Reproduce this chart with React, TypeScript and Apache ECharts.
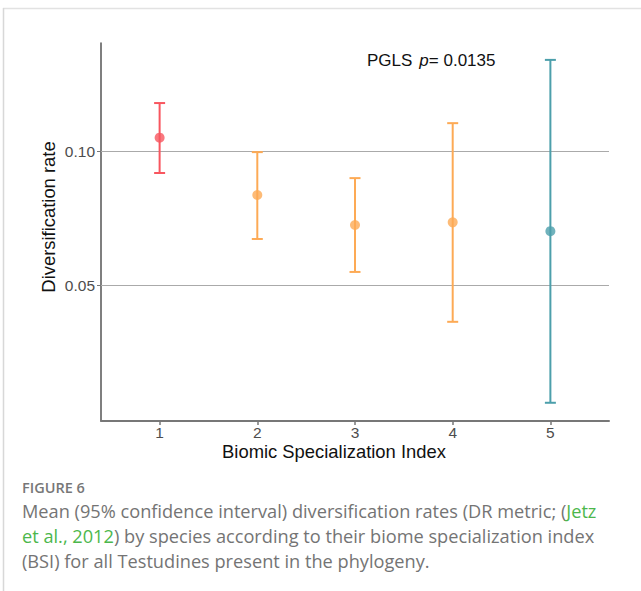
import React, { useEffect, useRef } from "react";
import * as echarts from "echarts";

const categories = [1, 2, 3, 4, 5];
const means = [0.105, 0.0836, 0.0724, 0.0734, 0.0701];
const lower = [0.0918, 0.0672, 0.0549, 0.0363, 0.0061];
const upper = [0.1179, 0.0996, 0.0899, 0.1104, 0.134];
const pointColors = ["#F8565F", "#FDAA55", "#FDAA55", "#FDAA55", "#4C9FAB"];
const yTicks = [0.05, 0.1];
const annotation = "= 0.0135";

export default function App() {
  const ref = useRef<HTMLDivElement>(null);
  useEffect(() => {
    document.body.style.margin = "0";
    const chart = echarts.init(ref.current!, null, { renderer: "svg" });
    const font = "'Liberation Sans', Arial, sans-serif";
    const capFont = "'Open Sans', 'Noto Sans', sans-serif";
    const tickRich = { a: { fontSize: 15.5, lineHeight: 14, fontFamily: font, color: "#4d4d4d" } };
    const errData = categories.map((c, i) => [c, lower[i], upper[i], i]);
    const ptData = categories.map((c, i) => ({
      value: [c, means[i]],
      itemStyle: { color: pointColors[i] },
    }));
    chart.setOption({
      animation: false,
      backgroundColor: "#ffffff",
      textStyle: { fontFamily: font },
      grid: { left: 101, right: 32, top: 43, bottom: 170, containLabel: false },
      xAxis: {
        type: "value",
        min: 0.4,
        max: 5.6,
        axisLine: { show: true, onZero: false, lineStyle: { color: "#777", width: 2 } },
        axisTick: { show: true, customValues: categories, length: 4, lineStyle: { color: "#777", width: 1.5 } },
        axisLabel: {
          show: true,
          customValues: categories,
          color: "#4d4d4d",
          fontSize: 15.5,
          lineHeight: 14,
          fontFamily: font,
          margin: 4,
          formatter: (v: number) => "{a|" + String(Math.round(v)) + "}",
          rich: tickRich,
        },
        splitLine: { show: false },
      },
      yAxis: {
        type: "value",
        min: -0.0007,
        max: 0.1403,
        axisLine: { show: true, onZero: false, lineStyle: { color: "#555", width: 1.5 } },
        axisTick: { show: true, customValues: yTicks, length: 4, lineStyle: { color: "#777", width: 1 } },
        axisLabel: {
          show: true,
          customValues: yTicks,
          color: "#4d4d4d",
          fontSize: 15.5,
          lineHeight: 14,
          fontFamily: font,
          margin: 6,
          formatter: (v: number) => "{a|" + v.toFixed(2) + "}",
          rich: tickRich,
        },
        splitLine: { show: false },
      },
      series: [
        {
          type: "custom",
          z: 3,
          silent: true,
          markLine: {
            silent: true,
            symbol: "none",
            label: { show: false },
            lineStyle: { color: "#aaaaaa", width: 1, type: "solid" },
            data: yTicks.map((t) => ({ yAxis: t })),
            z: 1,
          },
          renderItem: (params: any, api: any) => {
            const x = api.value(0);
            const lo = api.coord([x, api.value(1)]);
            const hi = api.coord([x, api.value(2)]);
            const color = pointColors[api.value(3)];
            const hw = 5.5;
            const style = { stroke: color, lineWidth: 2 };
            return {
              type: "group",
              children: [
                { type: "line", shape: { x1: lo[0], y1: lo[1], x2: hi[0], y2: hi[1] }, style },
                { type: "line", shape: { x1: lo[0] - hw, y1: lo[1], x2: lo[0] + hw, y2: lo[1] }, style },
                { type: "line", shape: { x1: hi[0] - hw, y1: hi[1], x2: hi[0] + hw, y2: hi[1] }, style },
              ],
            };
          },
          data: errData,
        },
        {
          type: "scatter",
          z: 4,
          symbol: "circle",
          symbolSize: 10,
          silent: true,
          data: ptData,
        },
      ],
      graphic: [
        { type: "line", shape: { x1: 3, y1: 8.5, x2: 641, y2: 8.5 }, style: { stroke: "#e2e2e2", lineWidth: 1.5 } },
        { type: "line", shape: { x1: 3.5, y1: 8, x2: 3.5, y2: 591 }, style: { stroke: "#d8d8d8", lineWidth: 1.5 } },
        {
          type: "text",
          x: 367,
          y: 60,
          style: {
            text: "{n|PGLS}{i|p}{n|" + annotation + "}",
            verticalAlign: "middle",
            rich: {
              n: { fontSize: 17, fontFamily: font, fill: "#111" },
              i: { fontSize: 17, fontFamily: font, fontStyle: "italic", fill: "#111", padding: [0, 0, 0, 7] },
            },
          },
        },
        {
          type: "text",
          x: 48,
          y: 217,
          rotation: Math.PI / 2,
          style: {
            text: "Diversification rate",
            fontSize: 18.4,
            fontFamily: font,
            fill: "#111",
            align: "center",
            verticalAlign: "middle",
          },
        },
        {
          type: "text",
          x: 334,
          y: 451,
          style: {
            text: "Biomic Specialization Index",
            fontSize: 18.4,
            lineHeight: 18,
            fontFamily: font,
            fill: "#111",
            align: "center",
            verticalAlign: "middle",
          },
        },
        {
          type: "text",
          x: 22,
          y: 487,
          style: {
            text: "FIGURE 6",
            fontSize: 14.5,
            fontWeight: 600,
            fontFamily: capFont,
            fill: "#777",
            verticalAlign: "middle",
          },
        },
        {
          type: "text",
          x: 22,
          y: 511,
          style: {
            text: "{t|Mean (95% confidence interval) diversification rates (DR metric; (}{g|Jetz}",
            verticalAlign: "middle",
            rich: {
              t: { fontSize: 18.2, fontFamily: capFont, fill: "#747474" },
              g: { fontSize: 18.2, fontFamily: capFont, fill: "#4CB74C" },
            },
          },
        },
        {
          type: "text",
          x: 22,
          y: 536,
          style: {
            text: "{g|et al., 2012}{t|) by species according to their biome specialization index}",
            verticalAlign: "middle",
            rich: {
              t: { fontSize: 18.2, fontFamily: capFont, fill: "#747474" },
              g: { fontSize: 18.2, fontFamily: capFont, fill: "#4CB74C" },
            },
          },
        },
        {
          type: "text",
          x: 22,
          y: 561,
          style: {
            text: "(BSI) for all Testudines present in the phylogeny.",
            fontSize: 18.2,
            fontFamily: capFont,
            fill: "#747474",
            verticalAlign: "middle",
          },
        },
      ],
    });
    return () => chart.dispose();
  }, []);
  return <div ref={ref} style={{ width: 641, height: 591 }} />;
}
